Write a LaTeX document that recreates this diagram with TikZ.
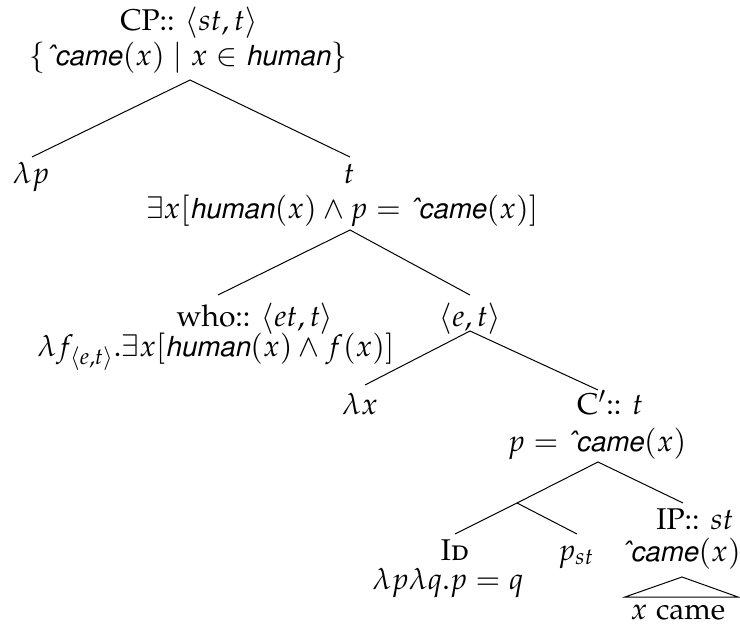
\documentclass[tikz,border=0pt]{standalone}
\usepackage[T1]{fontenc}
\usepackage[sc]{mathpazo}
\usepackage[scaled=0.92]{helvet}
\newcommand{\cme}{\textsf{\itshape\^{}came}}
\newcommand{\hmn}{\textsf{\itshape human}}
\tikzset{
  lbl/.style={anchor=base, inner sep=0pt, outer sep=0pt},
  branch/.style={line width=0.5pt},
}
\begin{document}
\begin{tikzpicture}[x=0.5pt, y=-0.5pt, font=\fontsize{15}{18}\selectfont]
\useasboundingbox (0,0) rectangle (740,626);
% labels
\node[lbl] (cp1) at (189,31) {CP:: $\langle st,t\rangle$};
\node[lbl] (cp2) at (188,66) {$\{$\cme$(x)\mid x\in{}$\hmn$\}$};
\node[lbl] (lp) at (31,184) {$\lambda p$};
\node[lbl] (t1) at (349,184) {$t$};
\node[lbl] (t2) at (342,219) {$\exists x[$\hmn$(x)\wedge p={}$\cme$(x)]$};
\node[lbl] (who1) at (255,327) {who:: $\langle et,t\rangle$};
\node[lbl] (who2) at (216,357) {$\lambda f_{\langle e,t\rangle}.\exists x[$\hmn$(x)\wedge f(x)]$};
\node[lbl] (et) at (470,327) {$\langle e,t\rangle$};
\node[lbl] (lx) at (360,414) {$\lambda x$};
\node[lbl] (c1) at (610,414) {C$'$:: $t$};
\node[lbl] (c2) at (597,451) {$p={}$\cme$(x)$};
\node[lbl] (id1) at (455,560) {\textsc{Id}};
\node[lbl] (id2) at (448,589) {$\lambda p\lambda q.p=q$};
\node[lbl] (pst) at (576,560) {$p_{st}$};
\node[lbl] (ip1) at (695,529) {IP:: $st$};
\node[lbl] (ip2) at (681,561) {\cme$(x)$};
\node[lbl] (xc) at (678,619) {$x$ came};
\coordinate (j) at (517,503);
% branches
\draw[branch] ([shift={(1,-27)}]lp.base) -- ([shift={(2,14)}]cp2.base) -- ([shift={(1,-27)}]t1.base);
\draw[branch] ([shift={(-37,-32)}]who1.base) -- ([shift={(8,11)}]t2.base) -- ([shift={(0,-32)}]et.base);
\draw[branch] ([shift={(5,-29)}]lx.base) -- ([shift={(0,4)}]et.base) -- ([shift={(-12,-24)}]c1.base);
\draw[branch] ([shift={(0,-26)}]id1.base) -- (j) -- ([shift={(1,11)}]c2.base) -- ([shift={(-12,-26)}]ip1.base);
\draw[branch] (j) -- ([shift={(1,-26)}]pst.base);
\draw[branch] ([shift={(-56,36)}]ip2.base) -- ([shift={(1,16)}]ip2.base) -- ([shift={(57,36)}]ip2.base) -- cycle;
\end{tikzpicture}
\end{document}
